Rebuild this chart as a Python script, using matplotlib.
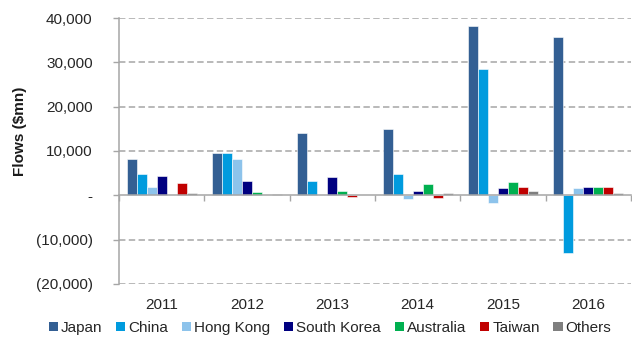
import matplotlib
matplotlib.use("Agg")
import matplotlib.pyplot as plt
import matplotlib.transforms as mtransforms
from matplotlib.patches import Patch
import numpy as np

plt.rcParams['font.family'] = ['Liberation Sans', 'DejaVu Sans']

years = ["2011", "2012", "2013", "2014", "2015", "2016"]
series_names = ["Japan", "China", "Hong Kong", "South Korea", "Australia", "Taiwan", "Others"]
japan = [8100, 9650, 14100, 14850, 38200, 35750]
china = [4700, 9600, 3200, 4850, 28450, -13100]
hong_kong = [1800, 8200, 0, -900, -1800, 1650]
south_korea = [4400, 3150, 4050, 950, 1700, 1950]
australia = [0, 750, 900, 2450, 2900, 1950]
taiwan = [2700, 0, -400, -650, 1800, 1800]
others = [500, 300, 0, 600, 1050, 600]
series_values = [japan, china, hong_kong, south_korea, australia, taiwan, others]
colors = ["#335f93", "#009bde", "#8dc3eb", "#000080", "#00b050", "#c00000", "#7f7f7f"]

y_ticks = [40000, 30000, 20000, 10000, 0, -10000, -20000]
y_tick_labels = ["40,000", "30,000", "20,000", "10,000", "-", "(10,000)", "(20,000)"]

fig = plt.figure(figsize=(6.32, 3.39), dpi=100)
W, H = 632, 339
ax = fig.add_axes([119 / W, 1 - 284 / H, (631 - 119) / W, (284 - 18) / H])

x = np.arange(len(years))
w = 0.117
for k, (name, vals, c) in enumerate(zip(series_names, series_values, colors)):
    ax.bar(x + (k - 3) * w, vals, width=w, color=c, edgecolor="white",
           linewidth=0.4, zorder=3)

ax.set_xlim(-0.5, 5.5)
ax.set_ylim(-20000, 40000)

# dashed horizontal grid (zero line drawn separately as the axis)
for yv in y_ticks:
    if yv != 0:
        ax.axhline(yv, color="#a6a6a6", linewidth=1.1, linestyle=(0, (4.2, 2.2)), zorder=1)

ax.set_yticks(y_ticks)
ax.set_yticklabels(y_tick_labels, fontsize=11, color="#262626")
ax.tick_params(axis="y", direction="out", length=4, color="#a6a6a6", width=1, pad=15)

for s in ["top", "right"]:
    ax.spines[s].set_visible(False)
ax.spines["left"].set_color("#a6a6a6")
ax.spines["left"].set_linewidth(1.1)
ax.spines["bottom"].set_position(("data", 0))
ax.spines["bottom"].set_color("#a6a6a6")
ax.spines["bottom"].set_linewidth(1.1)
ax.spines["bottom"].set_zorder(4)

ax.set_xticks(np.arange(-0.5, 6, 1.0))
ax.set_xticklabels([])
ax.tick_params(axis="x", direction="out", length=4, color="#a6a6a6", width=1)

# category labels below the plot area
trans = mtransforms.blended_transform_factory(ax.transData, fig.transFigure)
for xi, yr in zip(x, years):
    ax.text(xi, 1 - 305 / H, yr, transform=trans, ha="center", va="center",
            fontsize=11, color="#262626")

fig.text(20 / W, 1 - 131 / H, "Flows ($mn)", rotation=90, ha="center", va="center",
         fontsize=11, fontweight="bold", color="#1a1a1a")

handles = [Patch(facecolor=c, edgecolor="none", label=n) for n, c in zip(series_names, colors)]
fig.legend(handles=handles, loc="center", bbox_to_anchor=(330 / W, 1 - 328 / H), ncol=7,
           frameon=False, fontsize=11, handlelength=0.6, handleheight=0.6,
           handletextpad=0.2, columnspacing=0.9, borderpad=0, labelcolor="#262626")

fig.savefig("out.png", dpi=100)
